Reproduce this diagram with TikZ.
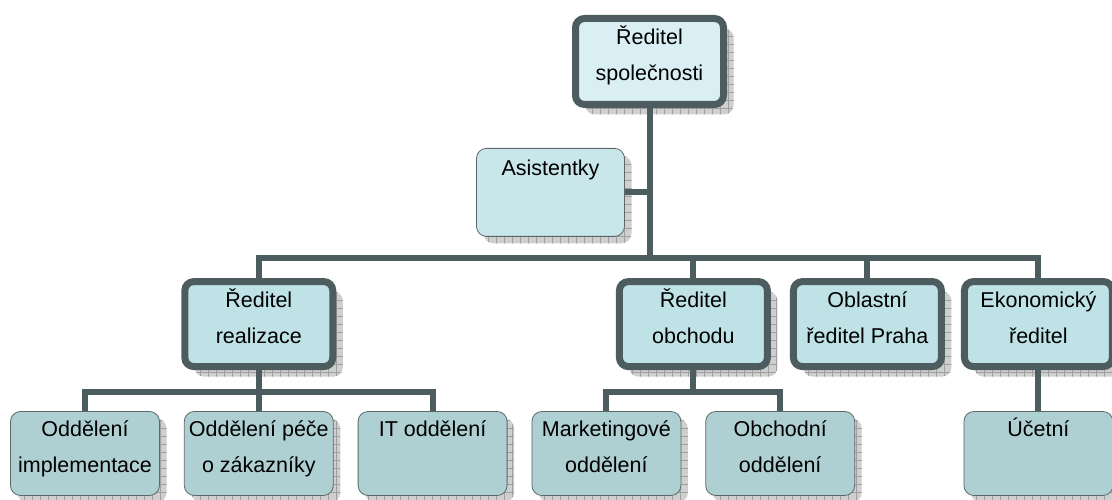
\documentclass[tikz,border=0pt]{standalone}
\usepackage{fontspec}
\setmainfont{Liberation Sans}
\usetikzlibrary{positioning}
\usetikzlibrary{shadows}
\usetikzlibrary{patterns.meta}
\definecolor{edgegray}{HTML}{4D5D5F}
\definecolor{thingray}{HTML}{5C6769}
\definecolor{topfill}{HTML}{DAEFF3}
\definecolor{midfill}{HTML}{BEE2E6}
\definecolor{sidefill}{HTML}{C9E7EA}
\definecolor{lowfill}{HTML}{AFD0D3}
\newcommand{\ls}{\rule[-17pt]{0pt}{36pt}}
\tikzstyle{bigshadow} = [general shadow={shadow xshift=10pt, shadow yshift=-10pt, fill=gray!38, postaction={pattern={Hatch[distance=8pt, line width=0.6pt]}, pattern color=gray!75}}]
\tikzstyle{smallshadow} = [general shadow={shadow xshift=7pt, shadow yshift=-7pt, fill=gray!38, postaction={pattern={Hatch[distance=8pt, line width=0.6pt]}, pattern color=gray!75}}]
\tikzstyle{block} = [rectangle, rounded corners=9pt, line width=7pt, draw=edgegray, fill=midfill, minimum width=148pt, minimum height=85pt, align=center, inner xsep=2pt, font=\fontsize{21.5pt}{36pt}\selectfont, bigshadow]
\tikzstyle{headblock} = [block, fill=topfill, minimum height=86pt]
\tikzstyle{smallblock} = [rectangle, rounded corners=10pt, line width=0.8pt, draw=thingray, fill=lowfill, minimum width=149pt, minimum height=84pt, align=center, inner xsep=2pt, font=\fontsize{21.5pt}{36pt}\selectfont, smallshadow]
\tikzstyle{sideblock} = [smallblock, fill=sidefill, minimum width=148pt, minimum height=88pt]
\tikzstyle{connector} = [line width=6pt, draw=edgegray]

\begin{document}
\begin{tikzpicture}[x=1pt, y=1pt, node distance=24pt]
  \useasboundingbox (0,0) rectangle (1112,500);

  % Top of the chart
  \node (reditel) [headblock] at (649.5,438.5) {\ls Ředitel\\\ls společnosti};
  \node (asistentky) [sideblock, below=40pt of reditel, xshift=-99pt] {\ls Asistentky\\\ls};

  % Departments in the bottom row, managers sit above them
  \node (implementace) [smallblock] at (85,46.5) {\ls Oddělení\\\ls implementace};
  \node (pece) [smallblock, right=of implementace] {\ls Oddělení péče\\\ls o zákazníky};
  \node (itodd) [smallblock, right=of pece] {\ls IT oddělení\\\ls};
  \node (marketing) [smallblock, right=of itodd] {\ls Marketingové\\\ls oddělení};
  \node (obchodni) [smallblock, right=of marketing] {\ls Obchodní\\\ls oddělení};

  \node (realizace) [block, above=41pt of pece] {\ls Ředitel\\\ls realizace};
  \node (obchodu) [block, above=41pt of marketing, xshift=87pt] {\ls Ředitel\\\ls obchodu};
  \node (praha) [block, right=19pt of obchodu] {\ls Oblastní\\\ls ředitel Praha};
  \node (ekonom) [block, right=16pt of praha] {\ls Ekonomický\\\ls ředitel};
  \node (ucetni) [smallblock, below=41pt of ekonom] {\ls Účetní\\\ls};

  % Lines between the boxes
  \draw [connector] (reditel.south) -- ++(0,-150) coordinate (hub);
  \draw [connector] (asistentky.east) -- (asistentky.east -| hub);
  \draw [connector] (realizace.north) |- (hub) -| (ekonom.north);
  \draw [connector] (obchodu.north) -- (obchodu.north |- hub);
  \draw [connector] (praha.north) -- (praha.north |- hub);
  \draw [connector] (realizace.south) -- ++(0,-22) coordinate (rbus);
  \draw [connector] (implementace.north) |- (rbus) -| (itodd.north);
  \draw [connector] (pece.north) -- (rbus);
  \draw [connector] (obchodu.south) -- ++(0,-22) coordinate (obus);
  \draw [connector] (marketing.north) |- (obus) -| (obchodni.north);
  \draw [connector] (ekonom) -- (ucetni);

\end{tikzpicture}
\end{document}
